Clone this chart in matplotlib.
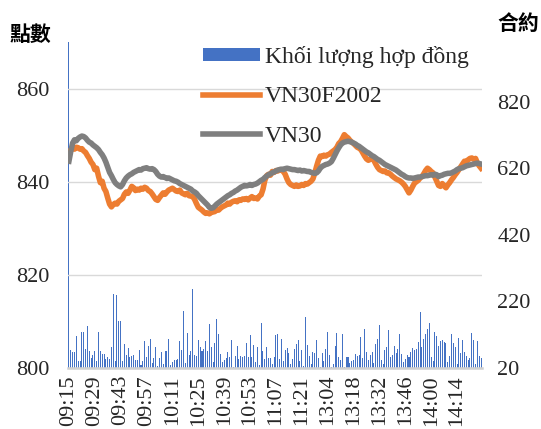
import matplotlib
matplotlib.use("Agg")
import matplotlib.pyplot as plt
import pandas as pd

plt.rcParams['font.family'] = ['Liberation Serif', 'Noto Sans CJK TC', 'DejaVu Sans']

# one category per trading minute (morning + afternoon session)
morning = pd.date_range("2020-01-20 09:15", "2020-01-20 11:30", freq="1min")
afternoon = pd.date_range("2020-01-20 13:00", "2020-01-20 14:27", freq="1min")
times = [t.strftime("%H:%M") for t in morning] + [t.strftime("%H:%M") for t in afternoon]

volume = [1800, 75, 68, 68, 117, 40, 40, 127, 127, 77, 145, 70, 50, 60, 70, 42, 129, 70, 63, 63,
          47, 52, 47, 82, 243, 40, 240, 162, 162, 42, 92, 60, 81, 52, 57, 60, 45, 45, 73, 30,
          42, 102, 53, 87, 107, 35, 50, 83, 27, 50, 67, 33, 72, 72, 107, 30, 37, 45, 45, 47,
          100, 75, 190, 35, 125, 60, 70, 258, 60, 55, 105, 82, 72, 77, 100, 70,
          152, 82, 38, 95, 168, 122, 63, 37, 45, 50, 68, 53, 105, 23, 55, 85, 48, 57, 52, 55,
          95, 53, 118, 54, 89, 38, 83, 30, 155, 72, 48, 82, 50, 50, 33, 53, 120, 122, 48, 108,
          42, 73, 80, 65, 33, 48, 78, 92, 105, 42, 75, 27, 173, 90, 55, 33, 68, 65, 103, 50,
          22, 65, 40, 77, 128, 59, 22, 33, 87, 125, 53, 45, 123, 23, 53, 53,
          35, 40, 45, 63, 57, 60, 112, 50, 137, 67, 45, 58, 69, 35, 92, 107, 150, 43, 33, 73,
          83, 134, 52, 60, 85, 65, 77, 123, 63, 38, 47, 59, 52, 68, 80, 75, 77, 97, 188, 83,
          107, 123, 138, 155, 53, 42, 129, 115, 87, 100, 104, 98, 95, 38, 57, 122, 95, 82, 33, 110,
          65, 104, 69, 57, 45, 51, 125, 103, 33, 100, 55, 50]

vn30f2002 = [846.3, 846.8, 847.3, 847.0, 847.4, 847.3, 847.0, 847.1, 846.6, 846.3,
             845.6, 845.0, 844.2, 843.7, 842.6, 842.9, 841.2, 839.8, 840.1, 838.6,
             837.9, 836.5, 835.2, 834.6, 835.1, 835.4, 835.2, 835.8, 836.1, 836.4,
             837.3, 837.8, 837.5, 838.2, 839.0, 838.7, 838.1, 838.4, 838.2, 838.6,
             838.4, 838.8, 838.6, 838.1, 837.9, 837.4, 836.8, 836.2, 836.0, 836.6,
             837.1, 837.6, 837.3, 837.8, 838.2, 838.4, 838.6, 838.3, 838.0, 837.9,
             838.2, 837.6, 837.4, 837.2, 837.5, 837.0, 836.9, 836.8, 836.2, 835.3,
             834.5, 834.2, 833.9, 833.5, 833.2, 833.3, 833.1, 833.4, 833.5, 833.6,
             834.0, 833.9, 834.3, 834.6, 834.8, 835.0, 835.4, 835.2, 835.6, 835.8,
             835.9, 835.7, 836.1, 836.0, 836.3, 836.2, 836.4, 836.1, 836.5, 836.8,
             836.4, 836.5, 836.3, 836.9, 837.2, 838.4, 840.3, 841.3, 841.6, 841.4,
             842.2, 842.0, 842.4, 842.3, 842.6, 842.5, 842.2, 841.6, 840.6, 839.8,
             839.4, 839.2, 839.0, 839.3, 839.0, 839.1, 839.4, 839.2, 839.6, 839.5,
             839.8, 840.1, 840.6, 841.8, 843.3, 844.6, 845.5, 845.4, 845.7, 845.5,
             845.8, 845.9, 846.3, 846.6, 846.9, 847.4, 848.2, 848.6, 849.3, 850.1,
             849.7, 849.4, 848.9, 848.5, 848.2, 847.8, 847.4, 847.2, 846.9, 846.2,
             845.5, 844.9, 844.6, 844.8, 845.1, 844.6, 843.8, 843.1, 842.6, 842.4,
             842.2, 842.3, 841.9, 841.9, 841.6, 841.2, 840.9, 840.6, 840.4, 840.2,
             839.9, 839.5, 839.0, 838.3, 837.6, 838.2, 839.0, 839.7, 840.0, 840.3,
             840.8, 841.1, 841.7, 842.4, 842.9, 842.6, 842.2, 841.9, 841.0, 840.1,
             839.2, 839.0, 839.6, 839.1, 838.7, 839.3, 839.8, 840.4, 840.9, 841.5,
             842.0, 842.6, 843.2, 843.8, 844.4, 844.3, 844.7, 845.0, 845.1, 844.8,
             845.0, 844.0, 843.4, 842.9]

vn30 = [844.4, 846.5, 848.3, 849.0, 848.8, 849.3, 849.6, 849.8, 849.7, 849.4,
        848.9, 848.5, 848.3, 847.9, 847.6, 847.3, 846.9, 846.3, 845.8, 845.1,
        844.2, 843.1, 842.0, 841.3, 840.5, 839.8, 839.4, 839.1, 838.9, 839.4,
        840.2, 840.8, 841.2, 841.5, 841.7, 842.0, 842.2, 842.4, 842.6, 842.5,
        842.8, 842.9, 843.0, 842.8, 842.7, 842.8, 842.6, 842.2, 841.6, 841.2,
        841.0, 841.1, 840.9, 840.7, 840.8, 840.6, 840.4, 840.2, 840.1, 839.9,
        839.6, 839.4, 839.2, 839.0, 838.8, 838.6, 838.4, 838.0, 837.8, 837.5,
        837.0, 836.6, 836.2, 835.8, 835.4, 835.0, 834.5, 834.3, 834.4, 834.8,
        835.2, 835.5, 835.8, 836.1, 836.4, 836.7, 837.0, 837.2, 837.5, 837.7,
        838.0, 838.2, 838.5, 838.8, 839.0, 839.2, 839.1, 839.2, 839.4, 839.2,
        839.4, 839.5, 839.7, 840.0, 840.3, 840.5, 840.9, 841.2, 841.5, 841.7,
        841.9, 842.1, 842.3, 842.5, 842.6, 842.7, 842.6, 842.8, 842.9, 842.8,
        842.7, 842.6, 842.6, 842.5, 842.4, 842.5, 842.3, 842.4, 842.3, 842.2,
        842.2, 842.0, 841.9, 841.8, 841.9, 842.3, 842.9, 843.3, 843.5, 843.7,
        843.8, 844.0, 844.3, 845.0, 845.8, 846.6, 847.3, 847.9, 848.3, 848.5,
        848.6, 848.7, 848.6, 848.5, 848.3, 848.1, 847.8, 847.6, 847.3, 847.0,
        846.7, 846.4, 846.2, 845.9, 845.6, 845.4, 845.1, 844.8, 844.6, 844.3,
        844.0, 843.7, 843.5, 843.3, 843.1, 842.9, 842.7, 842.5, 842.2, 841.9,
        841.6, 841.4, 841.1, 840.9, 840.8, 840.8, 840.7, 840.8, 840.9, 841.0,
        841.0, 841.1, 841.2, 841.3, 841.3, 841.4, 841.5, 841.4, 841.6, 841.5,
        841.1, 841.3, 841.4, 841.6, 841.7, 841.8, 841.8, 841.9, 842.1, 842.3,
        842.6, 842.8, 842.9, 843.0, 843.2, 843.4, 843.5, 843.6, 843.7, 843.8,
        843.9, 844.0, 843.9, 843.8]

labels = ["Khối lượng hợp đồng", "VN30F2002", "VN30"]

fig = plt.figure(figsize=(5.41, 4.29), dpi=100)
ax = fig.add_axes([68 / 541, 1 - 368 / 429, (482 - 68) / 541, (368 - 42) / 429])
ax2 = ax.twinx()

x = list(range(len(times)))
bars = ax2.bar(x, volume, width=0.55, color='#4472C4')
lf, = ax.plot(x, vn30f2002, color='#ED7D31', lw=4, solid_joinstyle='round')
lv, = ax.plot(x, vn30, color='#7F7F7F', lw=4, solid_joinstyle='round')

ax.set_zorder(ax2.get_zorder() + 1)
ax.patch.set_visible(False)

ax.set_xlim(-0.5, len(times) - 0.5)
ax.set_ylim(800, 870)
ax.set_yticks([800, 820, 840, 860])
ax2.set_ylim(20, 1000)
ax2.set_yticks([20, 220, 420, 620, 820])
ax.set_xticks(x[::14])
ax.set_xticklabels(times[::14])

ax.grid(axis='y', color='#D9D9D9', lw=1)
ax.set_axisbelow(True)
for s in ['top', 'left', 'right']:
    ax.spines[s].set_visible(False)
for s in ax2.spines.values():
    s.set_visible(False)
ax.spines['bottom'].set_color('#D0D0D0')
ax.spines['bottom'].set_linewidth(1.8)

tc = '#262626'
ax.tick_params(axis='x', length=0, rotation=90, pad=5, labelsize=16, colors=tc)
ax.tick_params(axis='y', length=0, pad=13, labelsize=16, colors=tc)
ax2.tick_params(axis='y', length=0, pad=11, labelsize=16, colors=tc)

fig.text(30 / 541, 1 - 34 / 429, "點數", family=['Noto Sans CJK TC'], fontweight='bold',
         fontsize=15, ha='center', va='center', color='black')
fig.text(518 / 541, 1 - 23 / 429, "合約", family=['Noto Sans CJK TC'], fontweight='bold',
         fontsize=15, ha='center', va='center', color='black')

fig.legend([bars, lf, lv], labels, loc='upper left', bbox_to_anchor=(203 / 541, 1 - 46 / 429),
           frameon=False, borderpad=0, borderaxespad=0, handlelength=2.4, handletextpad=0.22,
           labelspacing=0.78, handleheight=0.45, fontsize=17, labelcolor=tc)

fig.savefig("out.png", dpi=100)
